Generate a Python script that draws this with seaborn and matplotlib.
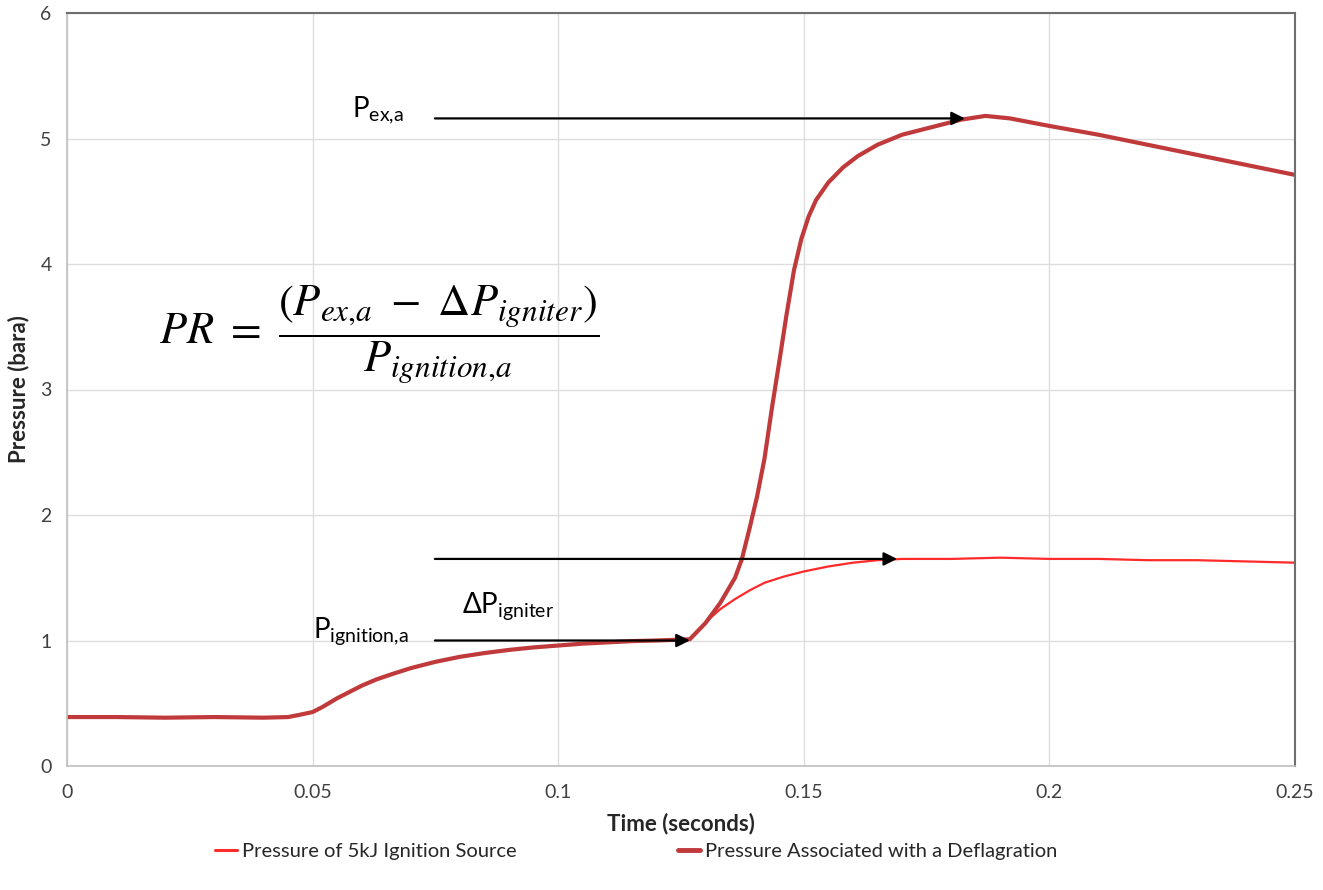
import matplotlib
matplotlib.use("Agg")
import matplotlib.pyplot as plt
import seaborn as sns
import pandas as pd
from matplotlib.lines import Line2D
from matplotlib.ticker import FuncFormatter

# ---- data ----
t_pre = [0.0, 0.01, 0.02, 0.03, 0.04, 0.045, 0.047, 0.05, 0.052, 0.055, 0.058, 0.06,
         0.063, 0.066, 0.07, 0.075, 0.08, 0.085, 0.09, 0.095, 0.1, 0.105, 0.11,
         0.115, 0.12, 0.1268]
p_pre = [0.39, 0.39, 0.385, 0.39, 0.385, 0.39, 0.405, 0.43, 0.47, 0.54, 0.60, 0.64,
         0.69, 0.73, 0.78, 0.83, 0.87, 0.90, 0.925, 0.945, 0.96, 0.975, 0.985,
         0.995, 1.0, 1.01]

t_ign = [0.129, 0.131, 0.133, 0.136, 0.139, 0.142, 0.146, 0.150, 0.155, 0.160,
         0.165, 0.170, 0.180, 0.190, 0.200, 0.210, 0.220, 0.230, 0.240, 0.250]
p_ign = [1.10, 1.18, 1.25, 1.33, 1.40, 1.46, 1.51, 1.55, 1.59, 1.62,
         1.64, 1.65, 1.65, 1.66, 1.65, 1.65, 1.64, 1.64, 1.63, 1.62]

t_def = [0.130, 0.133, 0.136, 0.1374, 0.139, 0.1405, 0.142, 0.1435, 0.145, 0.1465,
         0.148, 0.1495, 0.151, 0.1525, 0.155, 0.158, 0.161, 0.165, 0.170, 0.176,
         0.182, 0.187, 0.192, 0.196, 0.200, 0.210, 0.220, 0.230, 0.240, 0.250]
p_def = [1.14, 1.30, 1.50, 1.65, 1.90, 2.15, 2.45, 2.85, 3.22, 3.60,
         3.95, 4.20, 4.38, 4.51, 4.65, 4.77, 4.86, 4.95, 5.03, 5.09,
         5.15, 5.18, 5.16, 5.13, 5.10, 5.03, 4.95, 4.87, 4.79, 4.71]

series_names = ["Pressure of 5kJ Ignition Source", "Pressure Associated with a Deflagration"]
x_ticks = [0, 0.05, 0.1, 0.15, 0.2, 0.25]
y_ticks = [0, 1, 2, 3, 4, 5, 6]

# annotation levels
p_ex_a = 5.16
t_ex_a = 0.1828
dp_igniter = 1.65
t_dp = 0.169
p_ignition = 1.00
t_ignition = 0.1268
t_arrow_start = 0.0749

# ---- build frames ----
df_ign = pd.DataFrame({"t": t_pre + t_ign, "p": p_pre + p_ign})
df_def = pd.DataFrame({"t": t_pre + t_def, "p": p_pre + p_def})

sns.set_style("white")
plt.rcParams["font.family"] = ["Lato", "DejaVu Sans"]
plt.rcParams["mathtext.fontset"] = "custom"
plt.rcParams["mathtext.rm"] = "Lato"
plt.rcParams["mathtext.it"] = "Lato:italic"
plt.rcParams["mathtext.bf"] = "Lato:bold"

c_ign = "#ff2a2a"
c_def = "#c0393b"

fig = plt.figure(figsize=(13.23, 8.9), dpi=100)
ax = fig.add_axes([67/1323, 1-766/890, (1295-67)/1323, (766-13)/890])

sns.lineplot(data=df_ign, x="t", y="p", ax=ax, color=c_ign, linewidth=1.6, sort=False)
sns.lineplot(data=df_def, x="t", y="p", ax=ax, color=c_def, linewidth=3.0, sort=False)

ax.set_xlim(0, 0.25)
ax.set_ylim(0, 6)
ax.set_xticks(x_ticks)
ax.set_yticks(y_ticks)
ax.xaxis.set_major_formatter(FuncFormatter(lambda v, p: f"{v:g}"))
ax.grid(True, color="#dddddd", linewidth=1.0)
ax.set_axisbelow(True)
for s in ["left", "bottom"]:
    ax.spines[s].set_color("#bfbfbf")
    ax.spines[s].set_linewidth(1.2)
for s in ["top", "right"]:
    ax.spines[s].set_color("#6e6e6e")
    ax.spines[s].set_linewidth(1.5)
ax.tick_params(axis="both", which="major", length=5, width=1, color="#bfbfbf",
               labelsize=14, labelcolor="#404040", direction="out", pad=6)
ax.tick_params(axis="x", pad=8)
ax.set_xlabel("Time (seconds)", fontsize=16, fontweight="bold", labelpad=8)
ax.set_ylabel("Pressure (bara)", fontsize=16, fontweight="bold", labelpad=8)

arrow_kw = dict(arrowstyle="-|>", color="black", lw=1.6, mutation_scale=20,
                shrinkA=0, shrinkB=0)
ax.annotate("", xy=(t_ex_a, p_ex_a), xytext=(t_arrow_start, p_ex_a), arrowprops=arrow_kw)
ax.annotate("", xy=(t_dp, dp_igniter), xytext=(t_arrow_start, dp_igniter), arrowprops=arrow_kw)
ax.annotate("", xy=(t_ignition, p_ignition), xytext=(t_arrow_start, p_ignition), arrowprops=arrow_kw)

ax.text(0.058, 5.17, r"P$_{\mathregular{ex{,}a}}$", fontsize=20, ha="left", va="baseline", color="black")
ax.text(0.0501, 1.02, r"P$_{\mathregular{ignition{,}a}}$", fontsize=20, ha="left", va="baseline", color="black")
ax.text(0.0804, 1.227, r"$\mathregular{\Delta}$P$_{\mathregular{igniter}}$", fontsize=20, ha="left", va="baseline", color="black")

ax.text(0.0635, 3.44,
        r"$PR\ =\ \dfrac{(P_{ex{,}a}\ -\ \Delta P_{igniter})}{P_{ignition{,}a}}$",
        fontsize=32, ha="center", va="center", color="black", math_fontfamily="stix")

handles = [Line2D([0], [0], color=c_ign, lw=2.2), Line2D([0], [0], color=c_def, lw=3.5)]
fig.legend(handles, series_names, loc="center", bbox_to_anchor=(636/1323, 1-851/890),
           ncol=2, frameon=False, fontsize=14.5, handlelength=1.1, handletextpad=0.25,
           columnspacing=8.0)

fig.savefig("out.png", dpi=100)
